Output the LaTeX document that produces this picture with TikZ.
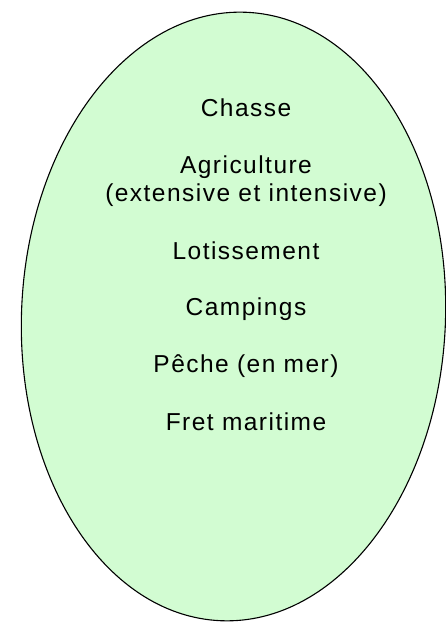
\documentclass[tikz,border=0pt]{standalone}
\usepackage{fontspec}
\setmainfont[LetterSpace=6]{Liberation Sans}
\definecolor{ellfill}{HTML}{D2FCD2}
\begin{document}
\begin{tikzpicture}[x=1pt,y=1pt,
  lbl/.style={anchor=base,inner sep=0pt,font=\fontsize{24.5}{28}\selectfont}]
\useasboundingbox (0,0) rectangle (446,623);
\draw[fill=ellfill,line width=1.1pt,rotate around={-2.4:(233.5,306.5)}] (233.5,306.5) ellipse [x radius=212,y radius=304.5];
\node[lbl] (chasse) at (246,506) {Chasse};
\node[lbl] (agri) at (246,449) {Agriculture};
\node[lbl] (ext) at (246,421) {(extensive et intensive)};
\node[lbl] (lot) at (246,363) {Lotissement};
\node[lbl] (camp) at (246,307) {Campings};
\node[lbl] (peche) at (246,250) {Pêche (en mer)};
\node[lbl] (fret) at (246,192) {Fret maritime};
\end{tikzpicture}
\end{document}
